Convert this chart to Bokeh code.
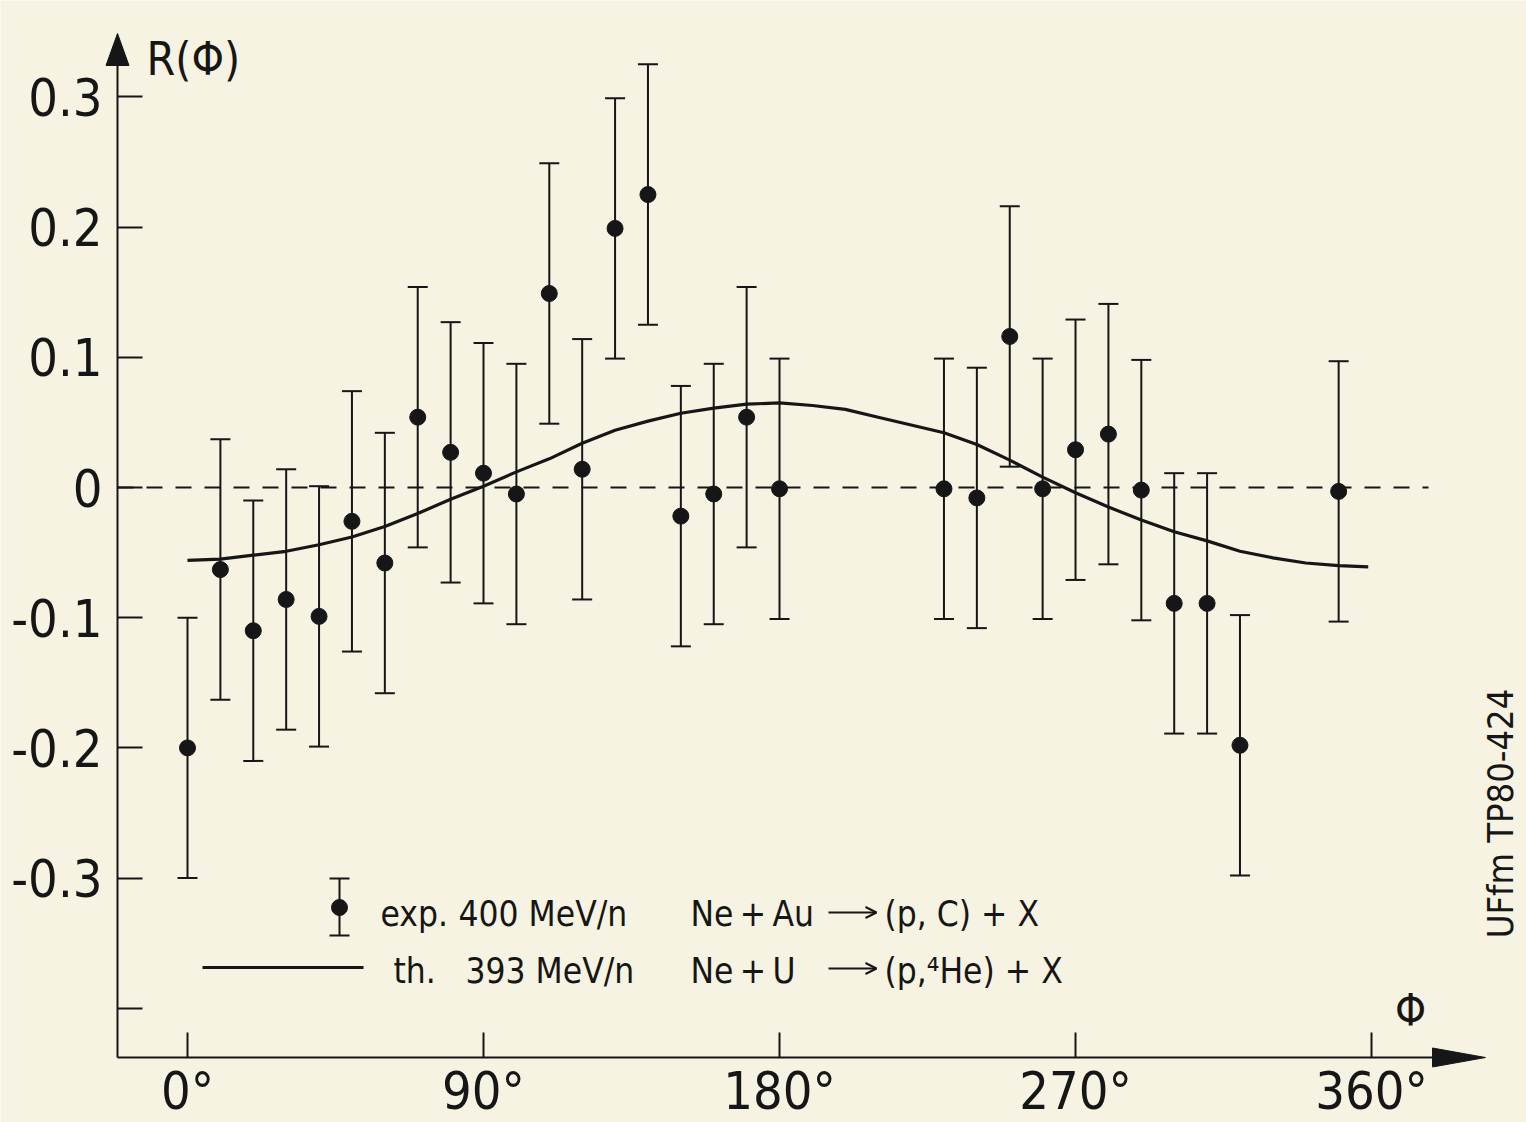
from bokeh.plotting import figure
from bokeh.models import (ColumnDataSource, Whisker, TeeHead, FixedTicker, Label,
                          Arrow, OpenHead, Range1d)
from bokeh.embed import file_html
from bokeh.resources import INLINE

# ---------------- data ----------------
phi_exp = [0, 10, 20, 30, 40, 50, 60, 70, 80, 90, 100, 110, 120, 130, 140, 150, 160, 170, 180,
           230, 240, 250, 260, 270, 280, 290, 300, 310, 320, 350]
R_exp = [-0.200, -0.063, -0.110, -0.086, -0.099, -0.026, -0.058, 0.054, 0.027, 0.011, -0.005,
         0.149, 0.014, 0.199, 0.225, -0.022, -0.005, 0.054, -0.001,
         -0.001, -0.008, 0.116, -0.001, 0.029, 0.041, -0.002, -0.089, -0.089, -0.198, -0.003]
R_err = [0.10, 0.10, 0.10, 0.10, 0.10, 0.10, 0.10, 0.10, 0.10, 0.10, 0.10, 0.10, 0.10, 0.10, 0.10,
         0.10, 0.10, 0.10, 0.10, 0.10, 0.10, 0.10, 0.10, 0.10, 0.10, 0.10, 0.10, 0.10, 0.10, 0.10]

phi_th = [0, 10, 20, 30, 40, 50, 60, 70, 80, 90, 100, 110, 120, 130, 140, 150, 160, 170, 180,
          190, 200, 210, 220, 230, 240, 250, 260, 270, 280, 290, 300, 310, 320, 330, 340, 350, 359]
R_th = [-0.056, -0.055, -0.052, -0.049, -0.044, -0.038, -0.030, -0.020, -0.009, 0.001, 0.012,
        0.022, 0.034, 0.044, 0.051, 0.057, 0.061, 0.064, 0.065, 0.063, 0.060, 0.054, 0.048,
        0.042, 0.033, 0.021, 0.008, -0.004, -0.015, -0.025, -0.034, -0.041, -0.049, -0.054,
        -0.058, -0.060, -0.061]

x_tick_values = [0, 90, 180, 270, 360]
x_tick_labels = ["0°", "90°", "180°", "270°", "360°"]
y_tick_values = [-0.4, -0.3, -0.2, -0.1, 0.0, 0.1, 0.2, 0.3]
y_tick_labels = ["", "-0.3", "-0.2", "-0.1", "0", "0.1", "0.2", "0.3"]

legend_row1 = ["exp.", "400 MeV/n", "Ne\u2009+\u2009Au", "(p, C) + X"]
legend_row2 = ["th.", "393 MeV/n", "Ne\u2009+\u2009U", "(p,\u2074He) + X"]

INK = "#161616"
PAPER = "#f6f3e2"
FONT = "DejaVu Sans Condensed"

W, H = 1526, 1122
# page-pixel calibration helpers (layout only): 0 deg at x 187, R=0 at y 487
X0, KX = 187.0, 3.289
Y0, KY = 487.0, 1302.0
def dx(px):
    return (px - X0) / KX
def dy(py):
    return (Y0 - py) / KY

# the frame covers the whole canvas; axes are placed at fixed locations
p = figure(width=W, height=H,
           x_range=Range1d(dx(0), dx(W)), y_range=Range1d(dy(H), dy(0)),
           output_backend="svg", toolbar_location=None,
           min_border=0, min_border_left=0, min_border_right=0,
           min_border_top=0, min_border_bottom=0,
           background_fill_color=PAPER, border_fill_color=PAPER, outline_line_color=None)
p.grid.visible = False

for ax in (p.xaxis[0], p.yaxis[0]):
    ax.axis_line_width = 2
    ax.axis_line_color = INK
    ax.major_tick_line_width = 2
    ax.major_tick_line_color = INK
    ax.major_tick_in = 25
    ax.major_tick_out = 0
    ax.minor_tick_line_color = None
    ax.major_label_text_font = FONT
    ax.major_label_text_color = INK
    ax.major_label_text_font_size = "52px"

p.xaxis.fixed_location = dy(1057)
p.xaxis.bounds = (dx(117), dx(1440))
p.xaxis.ticker = FixedTicker(ticks=x_tick_values)
p.xaxis.major_label_overrides = dict(zip(x_tick_values, x_tick_labels))
p.xaxis.major_label_standoff = 3

p.yaxis.fixed_location = dx(117)
p.yaxis.bounds = (dy(1057), dy(60))
p.yaxis.ticker = FixedTicker(ticks=y_tick_values)
p.yaxis.major_label_overrides = dict(zip(y_tick_values, y_tick_labels))
p.yaxis.major_label_standoff = 15

# axis arrow heads (decoration)
p.patches(xs=[[dx(117), dx(105.5), dx(128.5)], [dx(1485), dx(1432), dx(1432)]],
          ys=[[dy(33), dy(65), dy(65)], [dy(1057), dy(1047.5), dy(1066.5)]],
          fill_color=INK, line_color=INK, line_width=1)

# zero reference line
p.segment(x0=dx(117), y0=0, x1=dx(1428), y1=0, line_color=INK, line_width=2, line_dash="16 13")

# theory curve
p.line(phi_th, R_th, line_color=INK, line_width=3.2)

# experimental points with error bars
src = ColumnDataSource(dict(
    phi=phi_exp, R=R_exp,
    lo=[r - e for r, e in zip(R_exp, R_err)],
    hi=[r + e for r, e in zip(R_exp, R_err)]))
p.add_layout(Whisker(source=src, base="phi", lower="lo", upper="hi", dimension="height",
                     line_color=INK, line_width=2,
                     upper_head=TeeHead(size=20, line_width=2, line_color=INK),
                     lower_head=TeeHead(size=20, line_width=2, line_color=INK)))
p.scatter("phi", "R", source=src, size=16, color=INK)

# axis titles
p.add_layout(Label(x=dx(146), y=dy(58), text="R(Φ)", text_font=FONT, text_font_size="46px",
                   text_color=INK, text_baseline="alphabetic", text_align="left"))
p.add_layout(Label(x=dx(1410), y=dy(1010), text="Φ", text_font=FONT, text_font_size="44px",
                   text_color=INK, text_baseline="middle", text_align="center"))
p.add_layout(Label(x=dx(1500), y=dy(813), text="UFfm TP80-424", text_font=FONT,
                   text_font_size="36px", text_color=INK, angle=90, angle_units="deg",
                   text_baseline="middle", text_align="center"))

# legend
leg = ColumnDataSource(dict(x=[dx(339)], y=[dy(907)], lo=[dy(935)], hi=[dy(878)]))
p.add_layout(Whisker(source=leg, base="x", lower="lo", upper="hi", dimension="height",
                     line_color=INK, line_width=2,
                     upper_head=TeeHead(size=20, line_width=2, line_color=INK),
                     lower_head=TeeHead(size=20, line_width=2, line_color=INK)))
p.scatter("x", "y", source=leg, size=16, color=INK)
p.line([dx(202), dx(363)], [dy(967), dy(967)], line_color=INK, line_width=3.2)

row_x = [[380, 458, 690, 884], [393, 465, 690, 884]]
row_mid = [913, 970]
arrow_y = [912, 968]
for r, texts in enumerate([legend_row1, legend_row2]):
    for t, xpx in zip(texts, row_x[r]):
        p.add_layout(Label(x=dx(xpx), y=dy(row_mid[r]), text=t, text_font=FONT,
                           text_font_size="35px", text_color=INK,
                           text_baseline="middle", text_align="left"))
    p.add_layout(Arrow(x_start=dx(828), y_start=dy(arrow_y[r]), x_end=dx(876),
                       y_end=dy(arrow_y[r]), line_color=INK, line_width=2,
                       end=OpenHead(size=11, line_width=2, line_color=INK)))

open("out.html", "w").write(file_html(p, INLINE))
